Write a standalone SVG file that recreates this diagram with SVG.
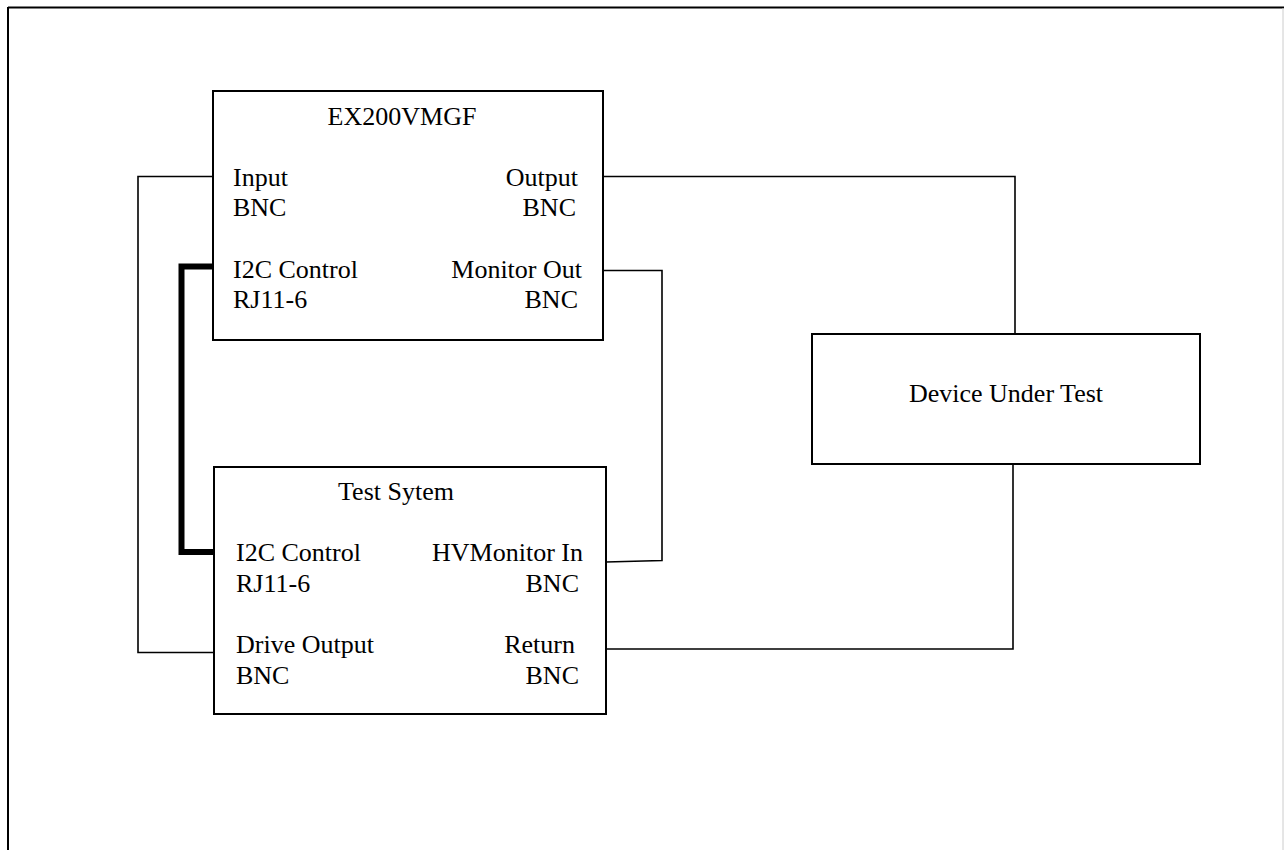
<svg xmlns="http://www.w3.org/2000/svg" width="1284" height="850" viewBox="0 0 1284 850">
<style>
.box{fill:#fff;stroke:#000;stroke-width:2}
.w{fill:none;stroke:#000;stroke-width:1.6}
.thick{fill:none;stroke:#000;stroke-width:6}
text{font-family:"Liberation Serif","Times New Roman",serif;font-size:26px;fill:#000}
.c{text-anchor:middle}
.e{text-anchor:end}
</style>
<rect width="1284" height="850" fill="#fff"/>
<g id="frame">
<line x1="8" y1="7.5" x2="1284" y2="7.5" stroke="#000" stroke-width="2"/>
<line x1="8" y1="7" x2="8" y2="850" stroke="#000" stroke-width="2"/>
<line x1="1283" y1="8" x2="1283" y2="850" stroke="#ccc" stroke-width="1"/>
</g>
<g id="connectors">
<polyline class="w" points="215,176.5 138,176.5 138,652.5 214,652.5"/>
<polyline class="w" points="603,176.5 1015,176.5 1015,334"/>
<polyline class="w" points="603,270.5 662,270.5 662,560.5 606,562"/>
<polyline class="w" points="606,649 1013,649 1013,464"/>
<polyline class="thick" points="213,266.5 181.5,266.5 181.5,552 214,552"/>
</g>
<g id="ex200vmgf">
<rect class="box" x="213" y="91" width="390" height="249"/>
<text class="c" x="402" y="125">EX200VMGF</text>
<text x="233" y="186">Input</text>
<text x="233" y="216">BNC</text>
<text x="233" y="278">I2C Control</text>
<text x="233" y="308">RJ11-6</text>
<text class="e" x="578" y="186">Output</text>
<text class="e" x="576" y="216">BNC</text>
<text class="e" x="582" y="278">Monitor Out</text>
<text class="e" x="578" y="308">BNC</text>
</g>
<g id="test-system">
<rect class="box" x="214" y="467" width="392" height="247"/>
<text class="c" x="396" y="500">Test Sytem</text>
<text x="236" y="561">I2C Control</text>
<text x="236" y="592">RJ11-6</text>
<text x="236" y="653">Drive Output</text>
<text x="236" y="684">BNC</text>
<text class="e" x="583" y="561">HVMonitor In</text>
<text class="e" x="579" y="592">BNC</text>
<text class="e" x="575" y="653">Return</text>
<text class="e" x="579" y="684">BNC</text>
</g>
<g id="dut">
<rect class="box" x="812" y="334" width="388" height="130"/>
<text class="c" x="1006" y="402">Device Under Test</text>
</g>
</svg>
